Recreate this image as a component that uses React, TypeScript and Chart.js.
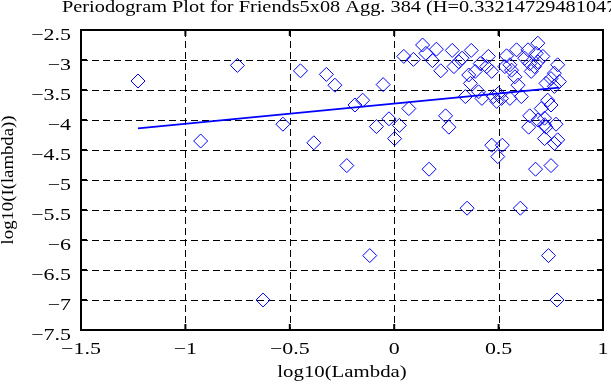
import React, { useEffect, useRef } from "react";
import { Chart, registerables } from "chart.js";

Chart.register(...registerables);

const titleText = "Periodogram Plot for Friends5x08 Agg. 384 (H=0.332147294810475)";
const xLabel = "log10(Lambda)";
const yLabel = "log10(I(lambda))";

const logLambda = [
  -1.227, -0.751, -0.927, -0.449, -0.325, -0.533, -0.385, -0.284, -0.628,
  -0.053, -0.188, -0.151, -0.085, -0.025, 0.025, 0.002, 0.07, -0.227, 0.167,
  0.246, 0.262, 0.349, 0.604, 0.467, 0.518, 0.496, 0.677, 0.751, -0.117, 0.739,
  0.78, 0.046, 0.092, 0.136, 0.152, 0.202, 0.183, 0.223, 0.278, 0.286, 0.309,
  0.325, 0.369, 0.365, 0.357, 0.388, 0.341, 0.404, 0.42, 0.412, 0.451, 0.443,
  0.467, 0.475, 0.491, 0.514, 0.499, 0.538, 0.53, 0.554, 0.562, 0.586, 0.578,
  0.593, 0.554, 0.609, 0.625, 0.641, 0.649, 0.656, 0.688, 0.68, 0.712, 0.688,
  0.672, 0.783, 0.767, 0.751, 0.791, 0.727, 0.767, 0.735, 0.751, 0.704, 0.649,
  0.644, 0.72, 0.72, 0.727, 0.775, 0.72, 0.767, 0.783, 0.688,
];
const logPower = [
  -3.35, -3.09, -4.35, -3.18, -3.24, -4.07, -4.38, -3.42, -7.0,
  -3.41, -3.75, -3.67, -4.11, -3.98, -4.09, -4.31, -3.81, -4.76, -4.82,
  -3.93, -4.12, -5.47, -5.47, -4.42, -4.42, -4.61, -4.82, -4.76, -6.26, -6.26,
  -7.0, -2.94, -2.99, -2.75, -2.89, -2.82, -3.01, -3.18, -2.84, -3.11, -3.03,
  -2.97, -2.84, -3.39, -3.25, -3.19, -3.61, -3.53, -3.64, -3.06, -2.94, -3.11,
  -3.19, -3.61, -3.69, -3.64, -3.56, -2.93, -3.11, -3.08, -3.17, -2.83, -3.28,
  -3.42, -3.64, -3.61, -2.97, -2.83, -3.06, -3.19, -2.72, -2.89, -2.94, -3.03,
  -3.11, -3.08, -3.22, -3.31, -3.36, -3.39, -3.44, -3.67, -3.75, -3.81, -3.93,
  -4.12, -3.97, -4.08, -4.12, -4.07, -4.31, -4.39, -4.33, -4.0,
];
const fitX = [-1.227, 0.79];
const fitY = [-4.14, -3.46];

const xTicks = [-1.5, -1, -0.5, 0, 0.5, 1];
const yTicks = [-7.5, -7, -6.5, -6, -5.5, -5, -4.5, -4, -3.5, -3, -2.5];

const FONT = "'Liberation Serif', 'Times New Roman', serif";

const fmt = (v: number) => {
  const s = String(Math.abs(v));
  return v < 0 ? "\u2212" + s : s;
};

function drawText(
  ctx: CanvasRenderingContext2D,
  text: string,
  x: number,
  y: number,
  size: number,
  stretch: number,
  align: CanvasTextAlign,
  baseline: CanvasTextBaseline,
  rotate = 0
) {
  ctx.save();
  ctx.translate(x, y);
  if (rotate) ctx.rotate(rotate);
  ctx.scale(stretch, 1);
  ctx.font = `${size}px ${FONT}`;
  ctx.textAlign = align;
  ctx.textBaseline = baseline;
  ctx.fillStyle = "#000";
  ctx.fillText(text, 0, 0);
  ctx.restore();
}

const framePlugin = {
  id: "frame",
  beforeDatasetsDraw(chart: any) {
    const { ctx, chartArea: a, scales } = chart;
    const xs = scales.x;
    const ys = scales.y;
    ctx.save();
    ctx.strokeStyle = "#000";
    ctx.lineWidth = 1;
    ctx.setLineDash([7, 4]);
    xTicks.forEach((t) => {
      const px = Math.round(xs.getPixelForValue(t)) + 0.5;
      if (px <= a.left + 2 || px >= a.right - 2) return;
      ctx.beginPath();
      ctx.moveTo(px, a.top);
      ctx.lineTo(px, a.bottom);
      ctx.stroke();
    });
    yTicks.forEach((t) => {
      const py = Math.round(ys.getPixelForValue(t)) + 0.5;
      if (py <= a.top + 2 || py >= a.bottom - 2) return;
      ctx.beginPath();
      ctx.moveTo(a.left, py);
      ctx.lineTo(a.right, py);
      ctx.stroke();
    });
    ctx.setLineDash([]);
    ctx.lineWidth = 2;
    xTicks.forEach((t) => {
      const px = xs.getPixelForValue(t);
      ctx.beginPath();
      ctx.moveTo(px, a.bottom);
      ctx.lineTo(px, a.bottom - 6);
      ctx.moveTo(px, a.top);
      ctx.lineTo(px, a.top + 6);
      ctx.stroke();
    });
    yTicks.forEach((t) => {
      const py = ys.getPixelForValue(t);
      ctx.beginPath();
      ctx.moveTo(a.left, py);
      ctx.lineTo(a.left + 6, py);
      ctx.moveTo(a.right, py);
      ctx.lineTo(a.right - 6, py);
      ctx.stroke();
    });
    ctx.strokeRect(a.left, a.top, a.right - a.left, a.bottom - a.top);

    // tick labels
    xTicks.forEach((t) => {
      drawText(ctx, fmt(t), xs.getPixelForValue(t), 354, 16, 1.37, "center", "alphabetic");
    });
    yTicks.forEach((t) => {
      drawText(ctx, fmt(t), 71, ys.getPixelForValue(t) + 10, 16, 1.37, "right", "alphabetic");
    });
    // titles
    drawText(ctx, titleText, 62, 12, 16, 1.27, "left", "alphabetic");
    drawText(ctx, xLabel, (a.left + a.right) / 2, 377, 16, 1.3, "center", "alphabetic");
    drawText(ctx, yLabel, 13, (a.top + a.bottom) / 2, 17, 1.1, "center", "alphabetic", -Math.PI / 2);
    ctx.restore();
  },
};

export default function App() {
  const ref = useRef<HTMLCanvasElement | null>(null);
  useEffect(() => {
    document.body.style.margin = "0";
    const pts = logLambda.map((x, i) => ({ x, y: logPower[i] }));
    const fit = fitX.map((x, i) => ({ x, y: fitY[i] }));
    const chart = new Chart(ref.current as HTMLCanvasElement, {
      type: "scatter",
      data: {
        datasets: [
          {
            data: pts,
            pointStyle: "rectRot",
            pointRadius: 7,
            borderColor: "#0000ff",
            backgroundColor: "rgba(0,0,0,0)",
            pointBorderWidth: 1,
          },
          {
            type: "line",
            data: fit,
            borderColor: "#0000ff",
            borderWidth: 1.8,
            pointRadius: 0,
            fill: false,
          },
        ],
      } as any,
      options: {
        animation: false,
        responsive: false,
        devicePixelRatio: 1,
        layout: { padding: { top: 30, right: 2, left: 0, bottom: 0 } },
        plugins: {
          legend: { display: false },
          tooltip: { enabled: false },
          title: { display: false },
        },
        scales: {
          x: {
            type: "linear",
            min: -1.5,
            max: 1,
            afterBuildTicks: (s: any) => {
              s.ticks = xTicks.map((v) => ({ value: v }));
            },
            afterFit: (s: any) => {
              s.height = 55;
            },
            grid: { display: false },
            border: { display: false },
            ticks: { display: false },
          },
          y: {
            type: "linear",
            min: -7.5,
            max: -2.5,
            afterBuildTicks: (s: any) => {
              s.ticks = yTicks.map((v) => ({ value: v }));
            },
            afterFit: (s: any) => {
              s.width = 81;
            },
            grid: { display: false },
            border: { display: false },
            ticks: { display: false },
          },
        },
      } as any,
      plugins: [framePlugin],
    });
    return () => chart.destroy();
  }, []);
  return (
    <div style={{ position: "absolute", left: 0, top: 0, width: 611, height: 385 }}>
      <canvas ref={ref} width={611} height={385} style={{ width: 611, height: 385 }} />
    </div>
  );
}
